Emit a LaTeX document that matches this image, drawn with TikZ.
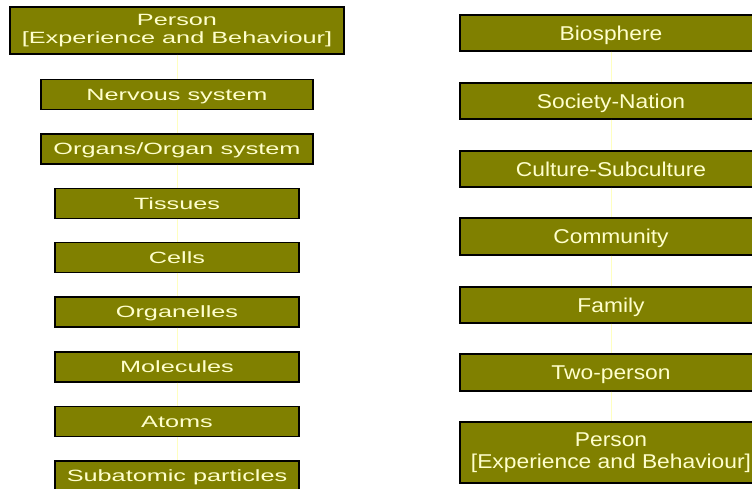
\documentclass[tikz,border=0pt]{standalone}
\usepackage{fontspec}
\newfontfamily\lfont[FakeStretch=1.55]{Liberation Sans}
\newfontfamily\rfont[FakeStretch=1.14]{Liberation Sans}
\definecolor{olivebox}{HTML}{808000}
\definecolor{creamtext}{HTML}{FFFFCC}
\definecolor{paleline}{HTML}{FFFFC0}
\tikzset{
  lvlbox/.style={draw=black, line width=1.2pt, fill=olivebox, text=creamtext,
    inner sep=0pt, align=center, rectangle},
  lbox/.style={lvlbox, font=\lfont\fontsize{16.3}{18.3}\selectfont},
  rbox/.style={lvlbox, font=\rfont\fontsize{20}{22}\selectfont},
  lone/.style={lbox, text height=11.7pt, text depth=0pt},
  rone/.style={rbox, text height=14.3pt, text depth=0pt},
  link/.style={draw=paleline, line width=1pt}
}
\begin{document}
\begin{tikzpicture}[x=1pt,y=-1pt]
\clip (0,0) rectangle (752,488);
\fill[white] (0,0) rectangle (752,488);
% left column
\node[lbox, minimum width=334pt, minimum height=47pt] (lp) at (177,30.5) {Person\\{}[Experience and Behaviour]};
\node[lone, minimum width=272pt, minimum height=29.5pt] (nerv) at (177,94.5) {Nervous system};
\node[lone, minimum width=272pt, minimum height=30pt] (org) at (177,149) {Organs/Organ system};
\node[lone, minimum width=244pt, minimum height=29.5pt] (tis) at (177,203.5) {Tissues};
\node[lone, minimum width=244pt, minimum height=29.5pt] (cel) at (177,257.5) {Cells};
\node[lone, minimum width=244pt, minimum height=30pt] (orgl) at (177,312) {Organelles};
\node[lone, minimum width=244pt, minimum height=30pt] (mol) at (177,367) {Molecules};
\node[lone, minimum width=244pt, minimum height=29.5pt] (atm) at (177,421.5) {Atoms};
\node[lone, minimum width=244pt, minimum height=30pt] (sub) at (177,476) {Subatomic particles};
% right column
\node[rone, minimum width=302pt, minimum height=36pt] (bio) at (611,33) {Biosphere};
\node[rone, minimum width=302pt, minimum height=36pt] (soc) at (611,101) {Society-Nation};
\node[rone, minimum width=302pt, minimum height=36pt] (cul) at (611,169) {Culture-Subculture};
\node[rone, minimum width=302pt, minimum height=37pt] (com) at (611,236.5) {Community};
\node[rone, minimum width=302pt, minimum height=36pt] (fam) at (611,305) {Family};
\node[rone, minimum width=302pt, minimum height=37pt] (two) at (611,372.5) {Two-person};
\node[rbox, minimum width=302pt, minimum height=61pt] (rp) at (611,452.5) {Person\\{}[Experience and Behaviour]};
% connectors
\draw[link] (lp.south) -- (nerv.north);
\draw[link] (nerv.south) -- (org.north);
\draw[link] (org.south) -- (tis.north);
\draw[link] (tis.south) -- (cel.north);
\draw[link] (cel.south) -- (orgl.north);
\draw[link] (orgl.south) -- (mol.north);
\draw[link] (mol.south) -- (atm.north);
\draw[link] (atm.south) -- (sub.north);
\draw[link] (bio.south) -- (soc.north);
\draw[link] (soc.south) -- (cul.north);
\draw[link] (cul.south) -- (com.north);
\draw[link] (com.south) -- (fam.north);
\draw[link] (fam.south) -- (two.north);
\draw[link] (two.south) -- (rp.north);
\end{tikzpicture}
\end{document}
